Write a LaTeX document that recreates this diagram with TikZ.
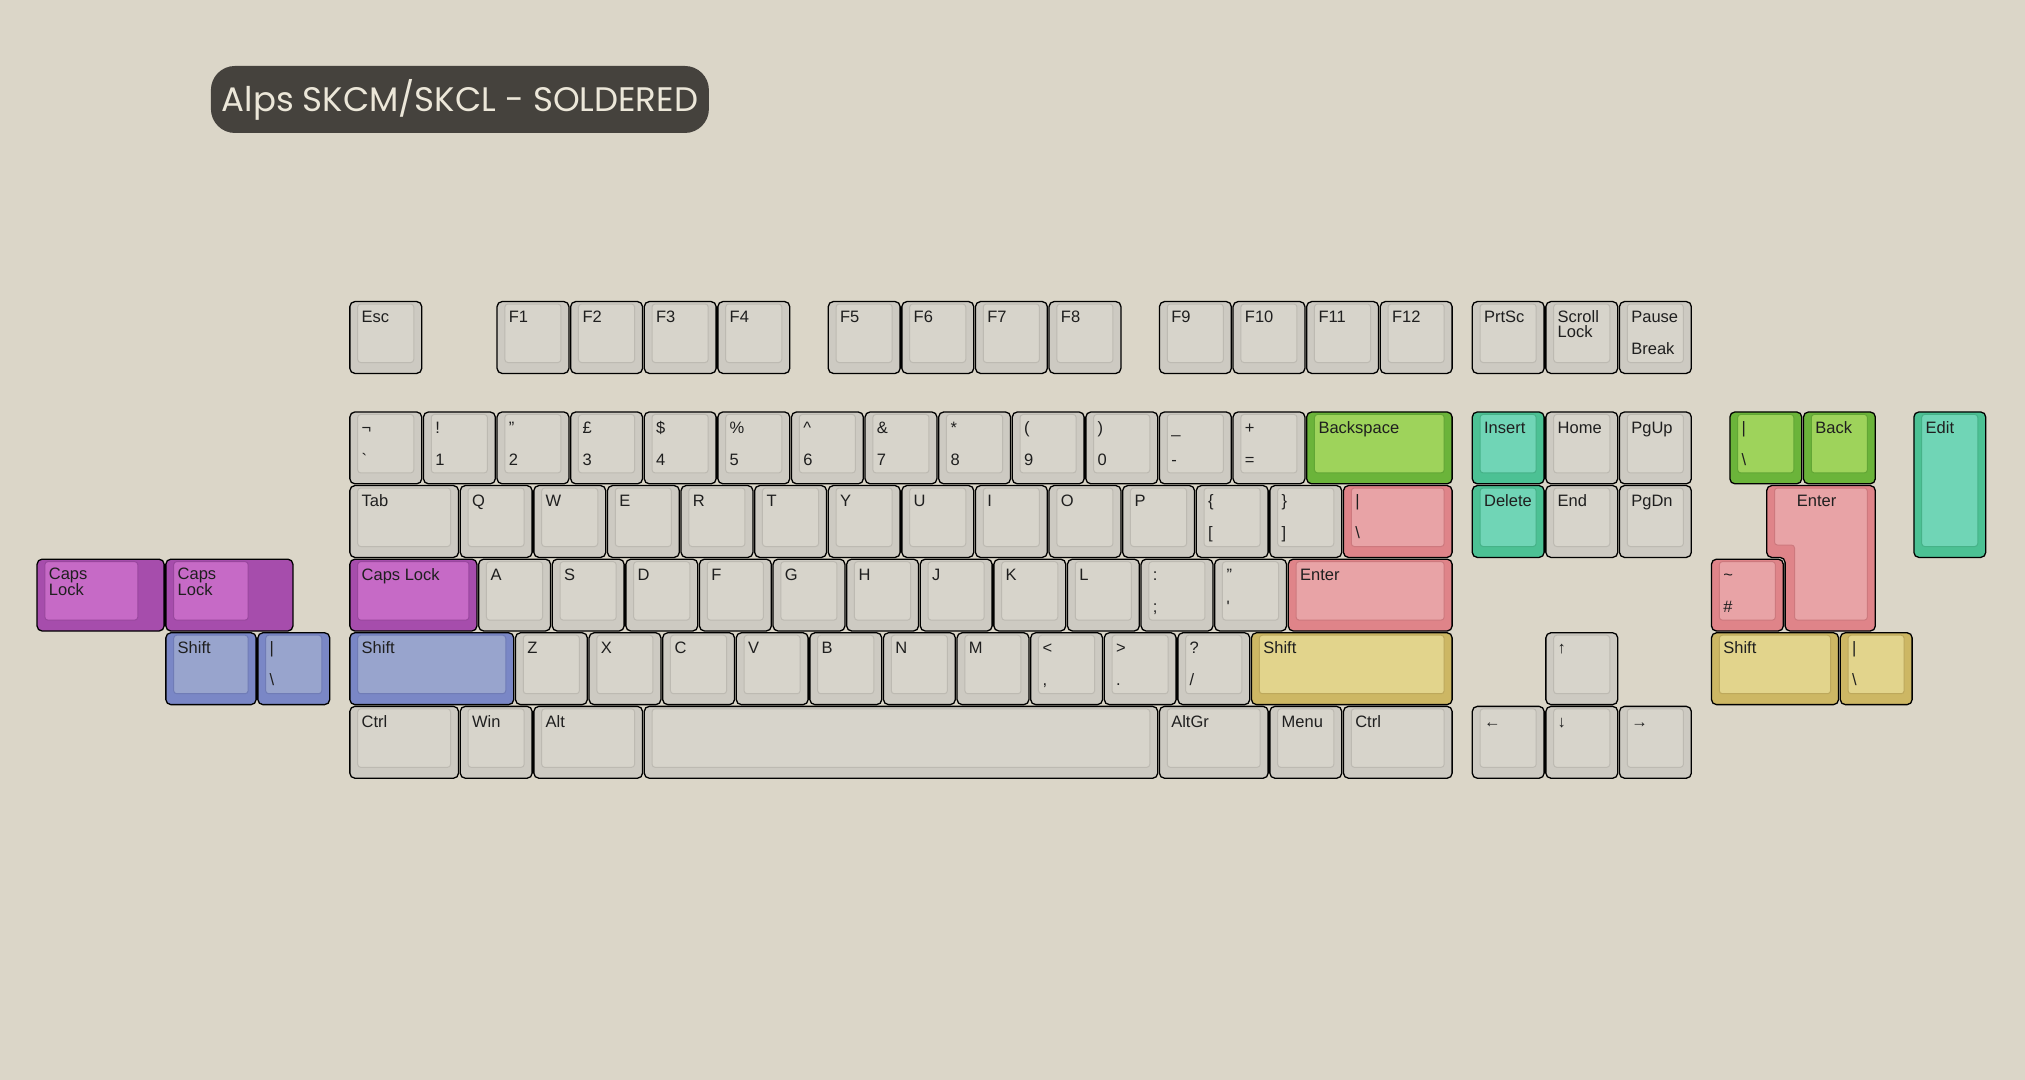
\documentclass[tikz,border=0pt]{standalone}
\usepackage{fontspec}
\setmainfont{Liberation Sans}
\newfontfamily\titlefont{Poppins}
\usetikzlibrary{calc}
\definecolor{paper}{HTML}{DBD6C8}
\definecolor{gry}{HTML}{CDCAC2}\definecolor{gry-in}{HTML}{D7D4CB}
\definecolor{mag}{HTML}{A64DAC}\definecolor{mag-in}{HTML}{C66AC6}
\definecolor{blu}{HTML}{7A87C6}\definecolor{blu-in}{HTML}{98A4CD}
\definecolor{grn}{HTML}{6BB43A}\definecolor{grn-in}{HTML}{9ED35B}
\definecolor{tea}{HTML}{4CC194}\definecolor{tea-in}{HTML}{70D5B6}
\definecolor{pnk}{HTML}{DF8489}\definecolor{pnk-in}{HTML}{E8A3A6}
\definecolor{yel}{HTML}{CDB764}\definecolor{yel-in}{HTML}{E2D48C}
\definecolor{plate}{HTML}{45423D}
\tikzset{keyout/.style={draw=black,line width=1.3pt,rounded corners=5pt,fill=#1},
         keyin/.style={draw=#1!92!black,line width=1pt,rounded corners=3pt,fill=#1-in}}
\tikzstyle{legend}=[anchor=base west,inner sep=0pt,align=left,text=black!88,font=\fontsize{16.5}{15.5}\selectfont]
\tikzstyle{title}=[fill=plate,rounded corners=24pt,minimum width=498pt,minimum height=67pt,text={rgb,255:red,236;green,231;blue,217},font=\titlefont\fontsize{34}{34}\selectfont]

\begin{document}
\begin{tikzpicture}[x=73.6pt,y=-73.6pt]

    \fill[paper] (-4.7418,-4.0856) rectangle (22.7717,10.5883);
    \useasboundingbox (-4.7418,-4.0856) rectangle (22.7717,10.5883);

    \node[title] (title) at (1.507,-2.734) {Alps SKCM/SKCL - SOLDERED};

    % plain keys: x / y / width / colour / upper legend / lower legend
    \foreach \x/\y/\w/\col/\legA/\legB [count=\i] in {
        0/0/1/gry/Esc/, 2/0/1/gry/F1/, 3/0/1/gry/F2/, 4/0/1/gry/F3/, 5/0/1/gry/F4/,
        6.5/0/1/gry/F5/, 7.5/0/1/gry/F6/, 8.5/0/1/gry/F7/, 9.5/0/1/gry/F8/,
        11/0/1/gry/F9/, 12/0/1/gry/F10/, 13/0/1/gry/F11/, 14/0/1/gry/F12/,
        15.25/0/1/gry/PrtSc/, 16.25/0/1/gry//, 17.25/0/1/gry/Pause/Break,
        0/1.5/1/gry/¬/\textasciigrave, 1/1.5/1/gry/!/1, 2/1.5/1/gry/"/2, 3/1.5/1/gry/£/3,
        4/1.5/1/gry/\$/4, 5/1.5/1/gry/\%/5, 6/1.5/1/gry/\textasciicircum/6, 7/1.5/1/gry/\&/7,
        8/1.5/1/gry/*/8, 9/1.5/1/gry/(/9, 10/1.5/1/gry/)/0, 11/1.5/1/gry/\_/-, 12/1.5/1/gry/+/=,
        13/1.5/2/grn/Backspace/, 15.25/1.5/1/tea/Insert/, 16.25/1.5/1/gry/Home/, 17.25/1.5/1/gry/PgUp/,
        18.75/1.5/1/grn/|/\textbackslash, 19.75/1.5/1/grn/Back/,
        0/2.5/1.5/gry/Tab/, 1.5/2.5/1/gry/Q/, 2.5/2.5/1/gry/W/, 3.5/2.5/1/gry/E/, 4.5/2.5/1/gry/R/,
        5.5/2.5/1/gry/T/, 6.5/2.5/1/gry/Y/, 7.5/2.5/1/gry/U/, 8.5/2.5/1/gry/I/, 9.5/2.5/1/gry/O/,
        10.5/2.5/1/gry/P/, 11.5/2.5/1/gry/\{/[, 12.5/2.5/1/gry/\}/], 13.5/2.5/1.5/pnk/|/\textbackslash,
        15.25/2.5/1/tea/Delete/, 16.25/2.5/1/gry/End/, 17.25/2.5/1/gry/PgDn/,
        0/3.5/1.75/mag/Caps Lock/, 1.75/3.5/1/gry/A/, 2.75/3.5/1/gry/S/, 3.75/3.5/1/gry/D/,
        4.75/3.5/1/gry/F/, 5.75/3.5/1/gry/G/, 6.75/3.5/1/gry/H/, 7.75/3.5/1/gry/J/, 8.75/3.5/1/gry/K/,
        9.75/3.5/1/gry/L/, 10.75/3.5/1/gry/:/;, 11.75/3.5/1/gry/"/\textquotesingle,
        12.75/3.5/2.25/pnk/Enter/, 18.5/3.5/1/pnk/\textasciitilde/\#,
        0/4.5/2.25/blu/Shift/, 2.25/4.5/1/gry/Z/, 3.25/4.5/1/gry/X/, 4.25/4.5/1/gry/C/,
        5.25/4.5/1/gry/V/, 6.25/4.5/1/gry/B/, 7.25/4.5/1/gry/N/, 8.25/4.5/1/gry/M/,
        9.25/4.5/1/gry/</{,}, 10.25/4.5/1/gry/>/., 11.25/4.5/1/gry/?/{/},
        12.25/4.5/2.75/yel/Shift/, 16.25/4.5/1/gry/↑/, 18.5/4.5/1.75/yel/Shift/,
        20.25/4.5/1/yel/|/\textbackslash, -2.5/4.5/1.25/blu/Shift/, -1.25/4.5/1/blu/|/\textbackslash,
        0/5.5/1.5/gry/Ctrl/, 1.5/5.5/1/gry/Win/, 2.5/5.5/1.5/gry/Alt/, 4/5.5/7/gry//,
        11/5.5/1.5/gry/AltGr/, 12.5/5.5/1/gry/Menu/, 13.5/5.5/1.5/gry/Ctrl/,
        15.25/5.5/1/gry/←/, 16.25/5.5/1/gry/↓/, 17.25/5.5/1/gry/→/}
    {
        \path[keyout=\col] (\x+0.012,\y+0.012) rectangle (\x+\w-0.012,\y+0.988);
        \path[keyin=\col] (\x+0.118,\y+0.045) rectangle (\x+\w-0.12,\y+0.84);
        \ifx\legA\empty\else \node[legend] (k\i) at (\x+0.17,\y+0.30) {\legA}; \fi
        \ifx\legB\empty\else \node[legend] (b\i) at (\x+0.17,\y+0.735) {\legB}; \fi
    }
    % two-line legend, base is the second line
    \node[legend] (scroll) at (16.42,0.505) {Scroll\\Lock};

    % stepped caps lock keys on the left
    \foreach \x/\iw [count=\i] in {-4.25/1.5, -2.5/1.25} {
        \path[keyout=mag] (\x+0.012,3.512) rectangle (\x+1.738,4.488);
        \path[keyin=mag] (\x+0.118,3.545) rectangle (\x+\iw-0.12,4.34);
        \node[legend] (caps\i) at (\x+0.17,4.005) {Caps\\Lock};
    }

    % tall keys
    \path[keyout=tea] (21.262,1.512) rectangle (22.238,3.488);
    \path[keyin=tea] (21.368,1.545) rectangle (22.13,3.34);
    \node[legend] (edit) at (21.42,1.8) {Edit};

    \path[keyout=pnk] (19.262,2.512) -- (20.738,2.512) -- (20.738,4.488) -- (19.512,4.488)
        -- (19.512,3.488) -- (19.262,3.488) -- cycle;
    \path[keyin=pnk] (19.368,2.545) -- (20.63,2.545) -- (20.63,4.34) -- (19.64,4.34)
        -- (19.64,3.32) -- (19.368,3.32) -- cycle;
    \node[legend] (isoenter) at (19.67,2.8) {Enter};

\end{tikzpicture}
\end{document}
